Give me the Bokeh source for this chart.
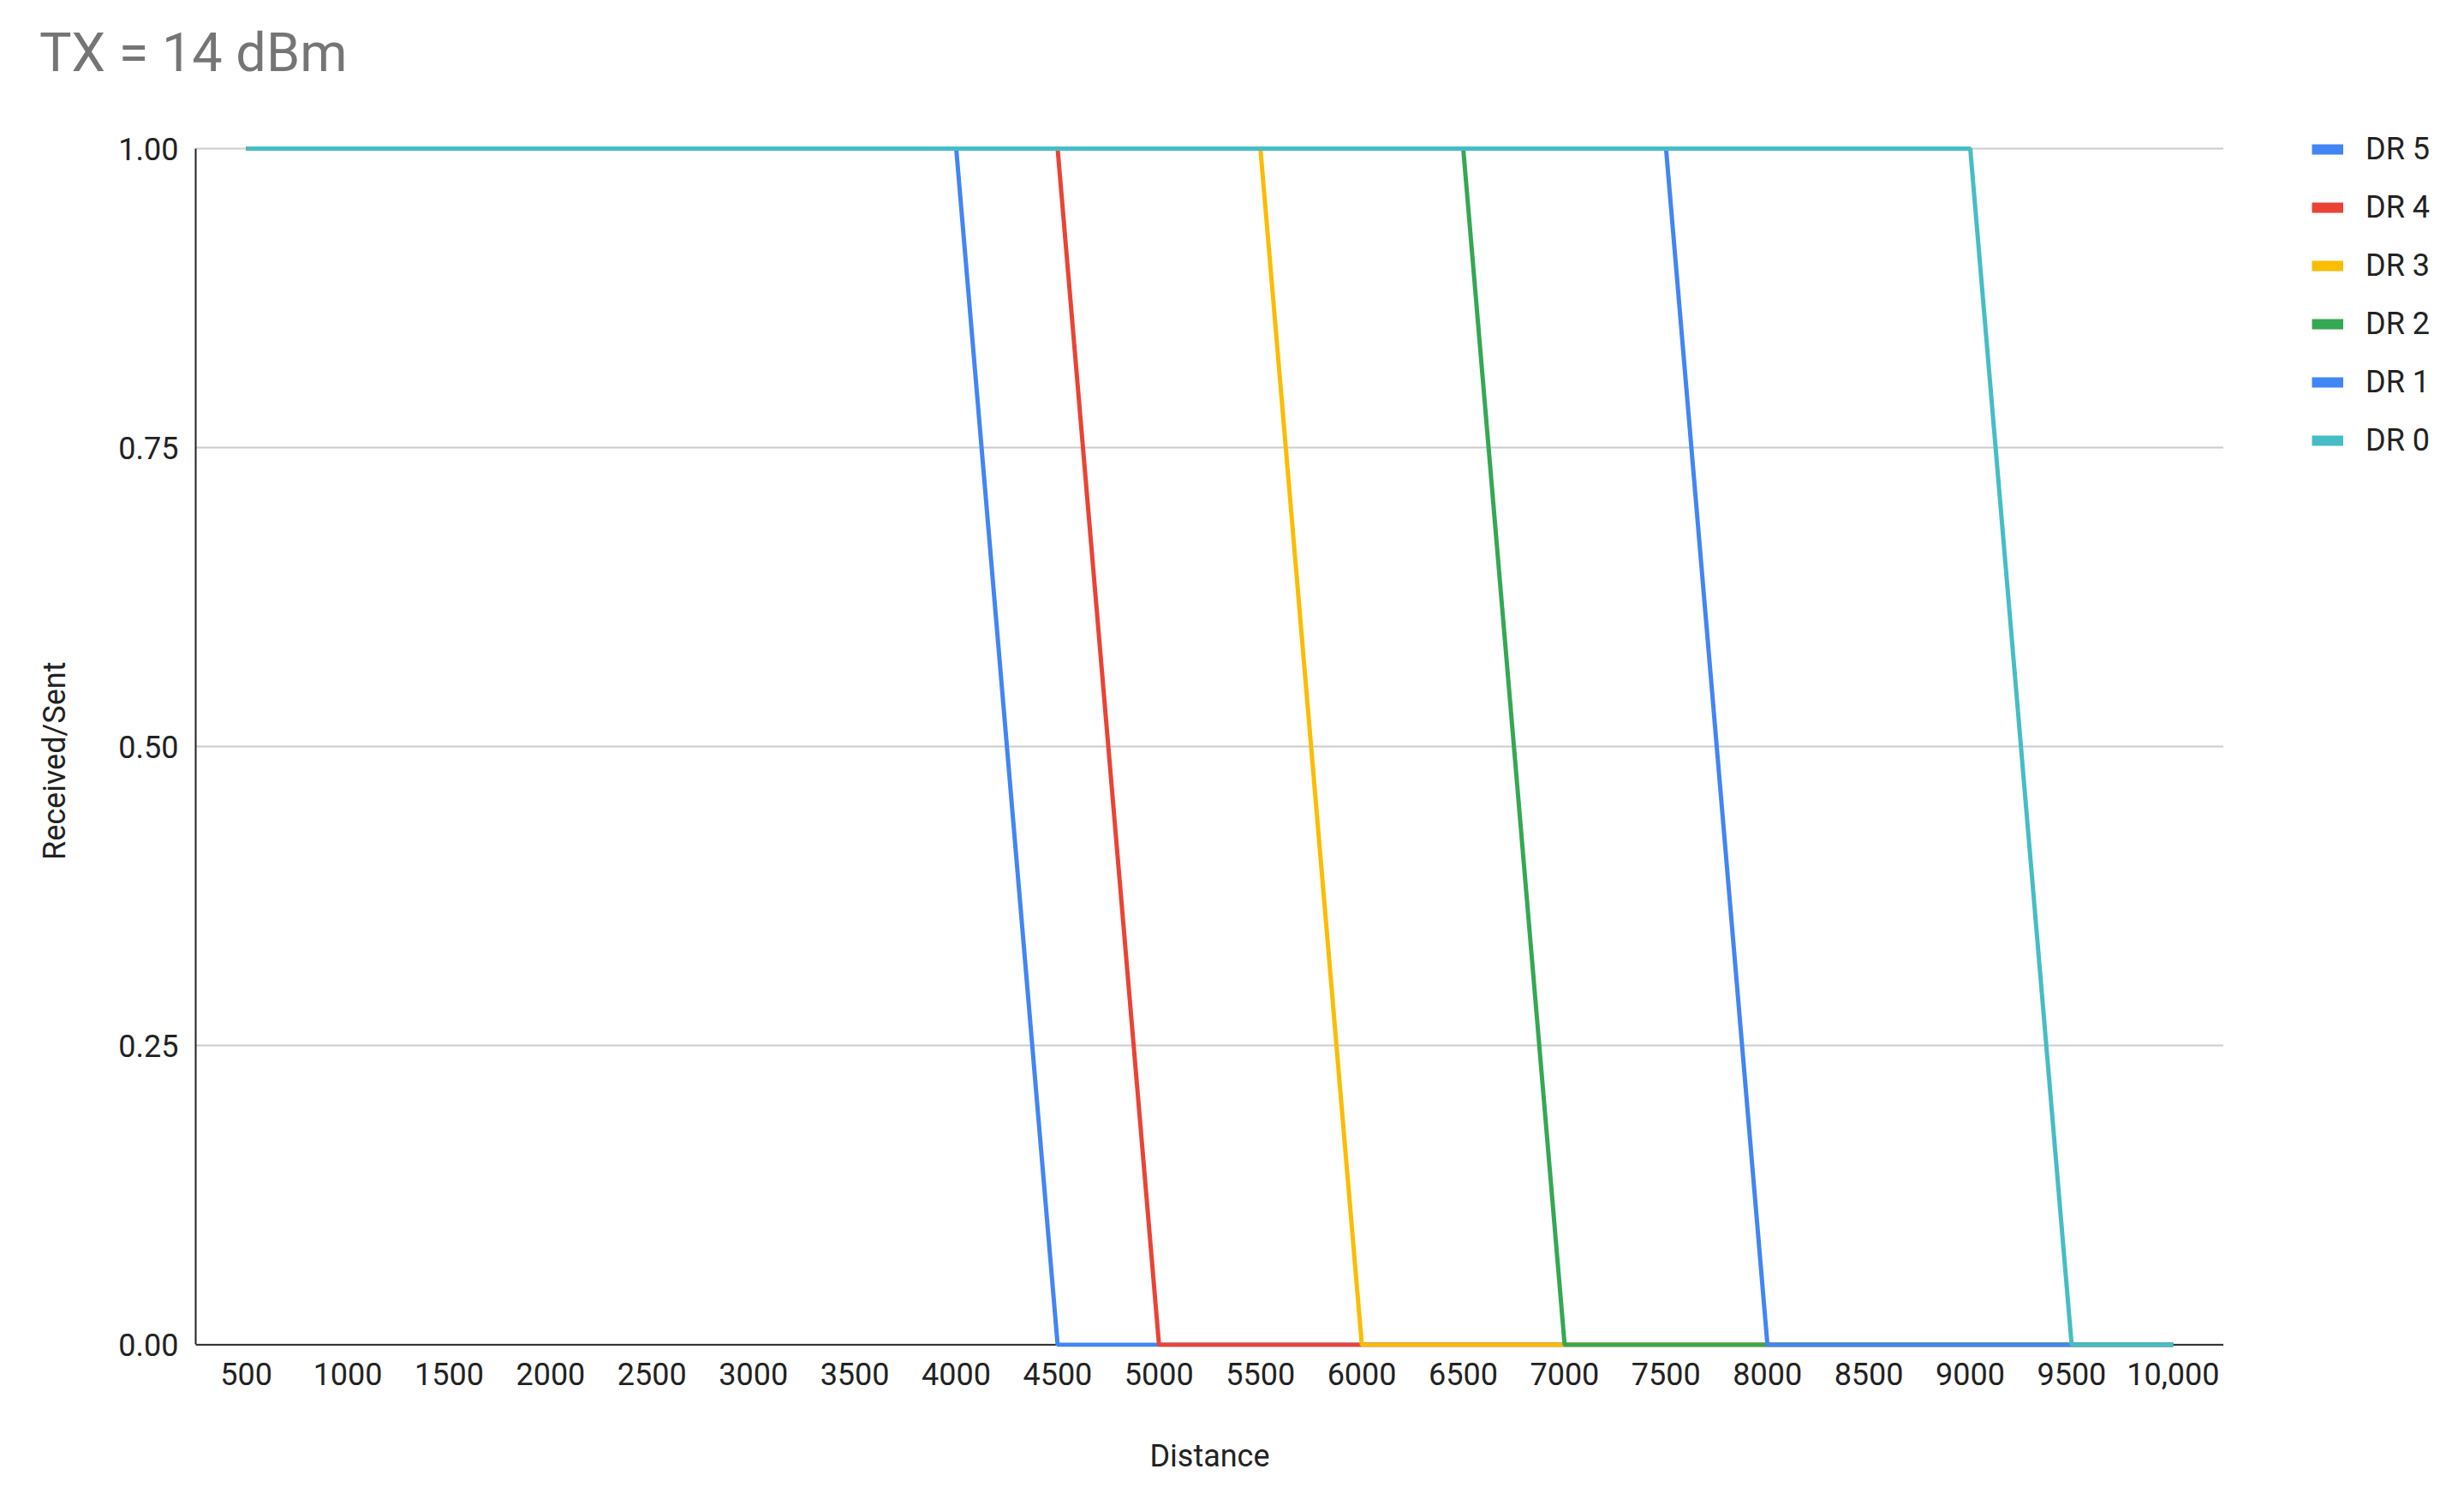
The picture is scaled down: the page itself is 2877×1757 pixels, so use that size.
from bokeh.plotting import figure
from bokeh.layouts import row, column
from bokeh.models import (FactorRange, Range1d, Legend, LegendItem, FixedTicker,
                          NumeralTickFormatter, Span, Div)
from bokeh.embed import file_html
from bokeh.resources import INLINE

distance = ["500", "1000", "1500", "2000", "2500", "3000", "3500", "4000", "4500", "5000",
            "5500", "6000", "6500", "7000", "7500", "8000", "8500", "9000", "9500", "10,000"]
dr5 = [1, 1, 1, 1, 1, 1, 1, 1, 0, 0, 0, 0, 0, 0, 0, 0, 0, 0, 0, 0]
dr4 = [1, 1, 1, 1, 1, 1, 1, 1, 1, 0, 0, 0, 0, 0, 0, 0, 0, 0, 0, 0]
dr3 = [1, 1, 1, 1, 1, 1, 1, 1, 1, 1, 1, 0, 0, 0, 0, 0, 0, 0, 0, 0]
dr2 = [1, 1, 1, 1, 1, 1, 1, 1, 1, 1, 1, 1, 1, 0, 0, 0, 0, 0, 0, 0]
dr1 = [1, 1, 1, 1, 1, 1, 1, 1, 1, 1, 1, 1, 1, 1, 1, 0, 0, 0, 0, 0]
dr0 = [1, 1, 1, 1, 1, 1, 1, 1, 1, 1, 1, 1, 1, 1, 1, 1, 1, 1, 0, 0]
series_names = ["DR 5", "DR 4", "DR 3", "DR 2", "DR 1", "DR 0"]
series_values = [dr5, dr4, dr3, dr2, dr1, dr0]
series_colors = ["#4285F4", "#EA4335", "#FBBC04", "#34A853", "#4285F4", "#46BDC6"]
y_ticks = [0, 0.25, 0.5, 0.75, 1.0]
title_text = "TX = 14 dBm"
x_title = "Distance"
y_title = "Received/Sent"

FONT = "Roboto"
TXT = "#222222"
Y_RANGE = (-0.0018, 1.0165)

# ---- title (HTML text above the chart) ----
title_div = Div(
    text=('<div style="margin:25px 0 0 46px; font-family:Roboto; font-size:63px; '
          'line-height:normal; color:#757575; white-space:nowrap;">' + title_text + '</div>'),
    width=2869, height=120, margin=0)

# ---- main chart ----
p = figure(frame_width=2368, frame_height=1422, output_backend="svg", toolbar_location=None,
           x_range=FactorRange(factors=distance), y_range=Range1d(*Y_RANGE),
           min_border_left=228, min_border_right=0, min_border_top=30, min_border_bottom=177)
p.outline_line_color = None
p.background_fill_color = "white"
p.border_fill_color = "white"

# baseline at y = 0 drawn beneath the series
p.add_layout(Span(location=0, dimension="width", line_color="#333333", line_width=2, level="underlay"))

for name, vals, col in zip(series_names, series_values, series_colors):
    p.line(x=distance, y=vals, line_color=col, line_width=5)

p.xgrid.grid_line_color = None
p.ygrid.ticker = FixedTicker(ticks=y_ticks)
p.ygrid.grid_line_color = "#cccccc"
p.ygrid.grid_line_width = 2

p.yaxis.ticker = FixedTicker(ticks=y_ticks)
p.yaxis.formatter = NumeralTickFormatter(format="0.00")
p.yaxis.bounds = (0, 1)
for ax in (p.xaxis, p.yaxis):
    ax.major_tick_line_color = None
    ax.minor_tick_line_color = None
    ax.major_tick_out = 0
    ax.major_tick_in = 0
    ax.minor_tick_out = 0
    ax.minor_tick_in = 0
    ax.major_label_text_font = FONT
    ax.major_label_text_font_size = "36px"
    ax.major_label_text_color = TXT
    ax.axis_label_text_font = FONT
    ax.axis_label_text_font_size = "36px"
    ax.axis_label_text_font_style = "normal"
    ax.axis_label_text_color = TXT
p.xaxis.axis_line_color = None
p.yaxis.axis_line_color = "#222222"
p.yaxis.axis_line_width = 2
p.xaxis.major_label_standoff = 18
p.yaxis.major_label_standoff = 20
p.xaxis.axis_label = x_title
# trailing no-break spaces nudge the rotated title slightly below the frame centre
p.yaxis.axis_label = y_title + "\u00a0" * 6
p.xaxis.axis_label_standoff = 59
p.yaxis.axis_label_standoff = 50

# ---- legend panel to the right of the chart ----
leg = figure(frame_width=273, frame_height=1422, output_backend="svg", toolbar_location=None,
             x_range=FactorRange(factors=distance), y_range=Range1d(*Y_RANGE),
             x_axis_location=None, y_axis_location=None,
             min_border_left=0, min_border_right=0, min_border_top=30, min_border_bottom=177)
leg.outline_line_color = None
leg.xgrid.grid_line_color = None
leg.ygrid.grid_line_color = None
items = []
for name, vals, col in zip(series_names, series_values, series_colors):
    r = leg.line(x=distance, y=vals, line_color=col, line_width=12, line_cap="butt", visible=False)
    items.append(LegendItem(label=name, renderers=[r]))
legend = Legend(items=items, location=(103, 1037), orientation="vertical",
                glyph_width=37, glyph_height=42, label_height=42, spacing=26,
                padding=0, margin=0, label_standoff=26,
                border_line_color=None, background_fill_alpha=0,
                label_text_font_size="36px", label_text_font=FONT, label_text_color=TXT)
leg.add_layout(legend)

layout = column(title_div, row(p, leg, spacing=0), spacing=0)
open("out.html", "w").write(file_html(layout, INLINE))
